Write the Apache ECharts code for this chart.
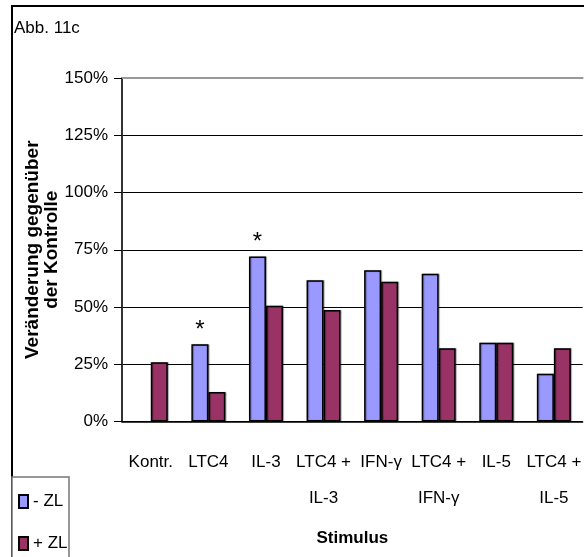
<!DOCTYPE html>
<html>
<head>
<meta charset="utf-8">
<script src="https://cdn.jsdelivr.net/npm/echarts@6/dist/echarts.min.js"></script>
<style>html,body{margin:0;padding:0;background:#fff;}#c{width:584px;height:557px;}</style>
</head>
<body>
<div id="c"></div>
<script>
var categories = ['Kontr.', 'LTC4', 'IL-3', 'LTC4 +\nIL-3', 'IFN-\u03b3', 'LTC4 +\nIFN-\u03b3', 'IL-5', 'LTC4 +\nIL-5'];
var minusZL = [null, 33.7, 72.0, 61.7, 66.1, 64.5, 34.4, 20.8];
var plusZL = [25.9, 12.9, 50.5, 48.7, 61.0, 32.0, 34.4, 32.0];
var significance = ['', '*', '*', '', '', '', '', ''];
var yTicks = [0, 25, 50, 75, 100, 125, 150];

var SANS = "'Liberation Sans', Arial, sans-serif";

var chart = echarts.init(document.getElementById('c'), null, {renderer: 'canvas'});
chart.setOption({
  animation: false,
  backgroundColor: '#fff',
  title: {
    text: 'Abb. 11c',
    left: 14, top: 20, padding: 0,
    textStyle: {fontFamily: SANS, fontSize: 17, fontWeight: 'normal', color: '#000'}
  },
  legend: {
    orient: 'vertical',
    left: 18, top: 493,
    padding: 0,
    icon: 'rect',
    itemWidth: 9, itemHeight: 13, itemGap: 25,
    textStyle: {fontFamily: SANS, fontSize: 17, color: '#000'},
    data: ['- ZL', '+ ZL']
  },
  graphic: [{
    type: 'rect', z: -1, silent: true,
    shape: {x: 12, y: 6, width: 700, height: 700},
    style: {fill: 'none', stroke: '#000', lineWidth: 2}
  }, {
    type: 'rect', z: -1, silent: true,
    shape: {x: 12, y: 477, width: 57, height: 100},
    style: {fill: '#fff', stroke: '#777', lineWidth: 1.5}
  }],
  grid: {left: 122, top: 78, width: 466, height: 343.5},
  xAxis: [{
    type: 'category',
    data: categories,
    name: 'Stimulus',
    nameLocation: 'middle',
    nameGap: 108,
    nameMoveOverlap: false,
    nameTextStyle: {fontFamily: SANS, fontWeight: 'bold', fontSize: 17, color: '#000'},
    axisLine: {lineStyle: {color: '#000', width: 1.5}},
    axisTick: {length: 8, lineStyle: {color: '#000', width: 1}},
    axisLabel: {interval: 0, margin: 23, fontFamily: SANS, fontSize: 17, lineHeight: 36, color: '#000'}
  }, {
    type: 'category',
    data: categories,
    position: 'top',
    axisLine: {lineStyle: {color: '#999', width: 2}},
    axisTick: {show: false},
    axisLabel: {show: false}
  }],
  yAxis: {
    type: 'value',
    min: 0, max: 150, interval: 25,
    name: 'Ver\u00e4nderung gegen\u00fcber\nder Kontrolle',
    nameLocation: 'middle',
    nameGap: 61,
    nameMoveOverlap: false,
    nameTextStyle: {fontFamily: SANS, fontWeight: 'bold', fontSize: 19, lineHeight: 19, color: '#000', align: 'center'},
    axisLine: {show: true, lineStyle: {color: '#333', width: 2}},
    axisTick: {show: true, length: 8, lineStyle: {color: '#000', width: 1}},
    axisLabel: {
      margin: 14, fontFamily: SANS, fontSize: 17, color: '#000',
      formatter: function (v) { return yTicks.indexOf(v) >= 0 ? v + '%' : ''; }
    },
    splitLine: {lineStyle: {color: '#000', width: 1}}
  },
  series: [{
    name: '- ZL',
    type: 'bar',
    data: minusZL,
    barWidth: 17,
    barGap: '0%',
    itemStyle: {color: '#9999FF', borderColor: '#000', borderWidth: 1.5,
      shadowColor: 'rgba(0,0,0,0.35)', shadowOffsetX: 1, shadowOffsetY: 0, shadowBlur: 1},
    label: {
      show: true, position: 'top', distance: 2,
      fontFamily: SANS, fontSize: 24, color: '#000',
      formatter: function (p) { return significance[p.dataIndex]; }
    }
  }, {
    name: '+ ZL',
    type: 'bar',
    data: plusZL,
    barWidth: 17,
    barGap: '0%',
    itemStyle: {color: '#993366', borderColor: '#000', borderWidth: 1.5,
      shadowColor: 'rgba(0,0,0,0.35)', shadowOffsetX: 1, shadowOffsetY: 0, shadowBlur: 1}
  }]
});
</script>
</body>
</html>
